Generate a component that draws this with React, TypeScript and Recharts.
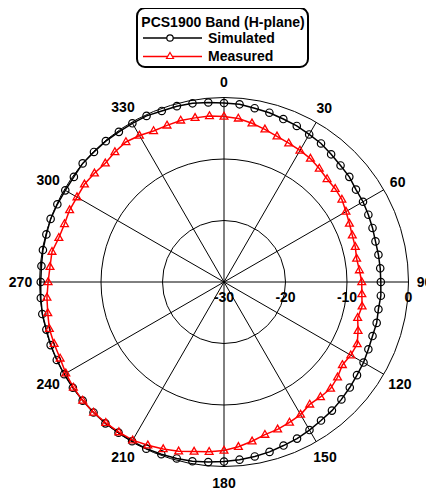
import { RadarChart, Radar, PolarGrid, PolarAngleAxis, PolarRadiusAxis } from 'recharts';

// angle in degrees, gain in dB
const angles = [
  0, 5, 10, 15, 20, 25, 30, 35, 40, 45, 50, 55,
  60, 65, 70, 75, 80, 85, 90, 95, 100, 105, 110, 115,
  120, 125, 130, 135, 140, 145, 150, 155, 160, 165, 170, 175,
  180, 185, 190, 195, 200, 205, 210, 215, 220, 225, 230, 235,
  240, 245, 250, 255, 260, 265, 270, 275, 280, 285, 290, 295,
  300, 305, 310, 315, 320, 325, 330, 335, 340, 345, 350, 355,
];

const simulated = [
  -0.9, -1.0, -1.3, -1.5, -1.8, -2.0, -2.3, -2.5, -2.9, -3.2, -3.4, -3.8,
  -3.9, -4.1, -4.3, -4.5, -4.5, -4.5, -4.5, -4.4, -4.5, -4.3, -4.3, -4.1,
  -3.8, -3.6, -3.3, -3.0, -2.7, -2.5, -2.2, -1.9, -1.7, -1.4, -1.2, -1.0,
  -0.8, -0.6, -0.4, -0.3, -0.2, -0.1, -0.1, -0.1, 0, 0, 0, 0,
  0, 0, 0, -0.1, 0, -0.1, -0.2, -0.2, -0.1, -0.1, 0, -0.1,
  -0.2, -0.2, 0, -0.1, -0.1, -0.2, -0.2, -0.2, -0.4, -0.4, -0.5, -0.7,
];

const measured = [
  -3.1, -3.3, -3.8, -4.3, -4.8, -5.1, -5.3, -5.5, -5.9, -6.3, -6.4, -6.6,
  -7.1, -7.5, -7.8, -7.9, -8.1, -7.9, -7.6, -7.5, -7.2, -7.5, -6.8, -6.1,
  -6.2, -6.5, -5.9, -5.5, -5.6, -5.7, -5.1, -4.8, -4.5, -4.3, -3.7, -3.1,
  -2.6, -2.3, -2.0, -1.5, -1.1, -0.7, -0.3, -0.2, -0.1, 0, 0, -0.1,
  -0.3, -0.6, -0.6, -0.6, -0.9, -1.1, -1.4, -1.6, -1.6, -2.2, -2.4, -2.3,
  -2.4, -2.3, -2.5, -2.7, -2.4, -2.2, -2.5, -2.9, -2.9, -2.8, -2.9, -2.9,
];

const angleTicks = [0, 30, 60, 90, 120, 150, 180, 210, 240, 270, 300, 330];
const radiusTicks = [-30, -20, -10, 0];

const data = angles.map((a, i) => ({ angle: a, simulated: simulated[i], measured: measured[i] }));

const FONT = 'Arial, "Liberation Sans", sans-serif';

function CircleDot(props: any) {
  const { cx, cy } = props;
  return <circle cx={cx} cy={cy} r={3.7} fill="none" stroke="#000" strokeWidth={1.2} />;
}

function TriangleDot(props: any) {
  const { cx, cy } = props;
  return (
    <path
      d={`M${cx},${cy - 4.2} L${cx + 3.9},${cy + 2.6} L${cx - 3.9},${cy + 2.6} Z`}
      fill="none"
      stroke="#ff0000"
      strokeWidth={1.3}
    />
  );
}

function AngleTick(props: any) {
  const { x, y, payload } = props;
  // three-digit labels sit a bit further out on the sides
  const a = (payload.value * Math.PI) / 180;
  const extra = payload.value >= 100 ? Math.abs(Math.sin(a)) * 3 : 0;
  return (
    <text x={x + Math.sin(a) * extra} y={y - Math.cos(a) * extra} textAnchor="middle" dominantBaseline="central"
      fontFamily={FONT} fontWeight="bold" fontSize={14} fill="#000">
      {payload.value}
    </text>
  );
}

function RadiusTick(props: any) {
  const { x, y, payload } = props;
  return (
    <text x={x} y={y + 15} textAnchor="middle" dominantBaseline="central"
      fontFamily={FONT} fontWeight="bold" fontSize={14} fill="#000">
      {payload.value}
    </text>
  );
}

function LegendBox() {
  return (
    <svg width={176} height={64} style={{ position: 'absolute', left: 128, top: -1 }}>
      <rect x={1} y={1} width={171} height={59} rx={8} ry={8} fill="#fff" stroke="#000" strokeWidth={2} />
      <text x={87} y={20} textAnchor="middle" fontFamily={FONT} fontWeight="bold" fontSize={14}>
        PCS1900 Band (H-plane)
      </text>
      <line x1={7} y1={31} x2={66} y2={31} stroke="#000" strokeWidth={1.5} />
      <circle cx={34} cy={31} r={3.2} fill="#fff" stroke="#000" strokeWidth={1.2} />
      <text x={72} y={36} fontFamily={FONT} fontWeight="bold" fontSize={14}>Simulated</text>
      <line x1={7} y1={49.5} x2={66} y2={49.5} stroke="#ff0000" strokeWidth={1.5} />
      <path d="M34,45.5 L37.5,51.5 L30.5,51.5 Z" fill="#fff" stroke="#ff0000" strokeWidth={1.2} />
      <text x={72} y={54} fontFamily={FONT} fontWeight="bold" fontSize={14}>Measured</text>
    </svg>
  );
}

export default function App() {
  return (
    <div style={{ position: 'relative', width: 426, height: 482 }}>
      <style>{'html, body { overflow: hidden; }'}</style>
      <RadarChart
        width={426}
        height={482}
        data={data}
        cx={216}
        cy={274}
        outerRadius={184.5}
        startAngle={90}
        endAngle={-270}
        margin={{ top: 0, right: 0, bottom: 0, left: 0 }}
      >
        <PolarGrid gridType="circle" stroke="#000" strokeWidth={1} />
        <PolarAngleAxis
          dataKey="angle"
          type="number"
          domain={[0, 360]}
          ticks={angleTicks}
          tickSize={16}
          tickLine={false}
          axisLine={false}
          tick={AngleTick}
        />
        <PolarRadiusAxis
          type="number"
          domain={[-30, 0]}
          ticks={radiusTicks}
          angle={0}
          axisLine={false}
          tickLine={false}
          tick={RadiusTick}
        />
        <Radar dataKey="simulated" stroke="#000" strokeWidth={1.5} fill="none" fillOpacity={0}
          dot={CircleDot} isAnimationActive={false} />
        <Radar dataKey="measured" stroke="#ff0000" strokeWidth={1.5} fill="none" fillOpacity={0}
          dot={TriangleDot} isAnimationActive={false} />
      </RadarChart>
      <LegendBox />
    </div>
  );
}
